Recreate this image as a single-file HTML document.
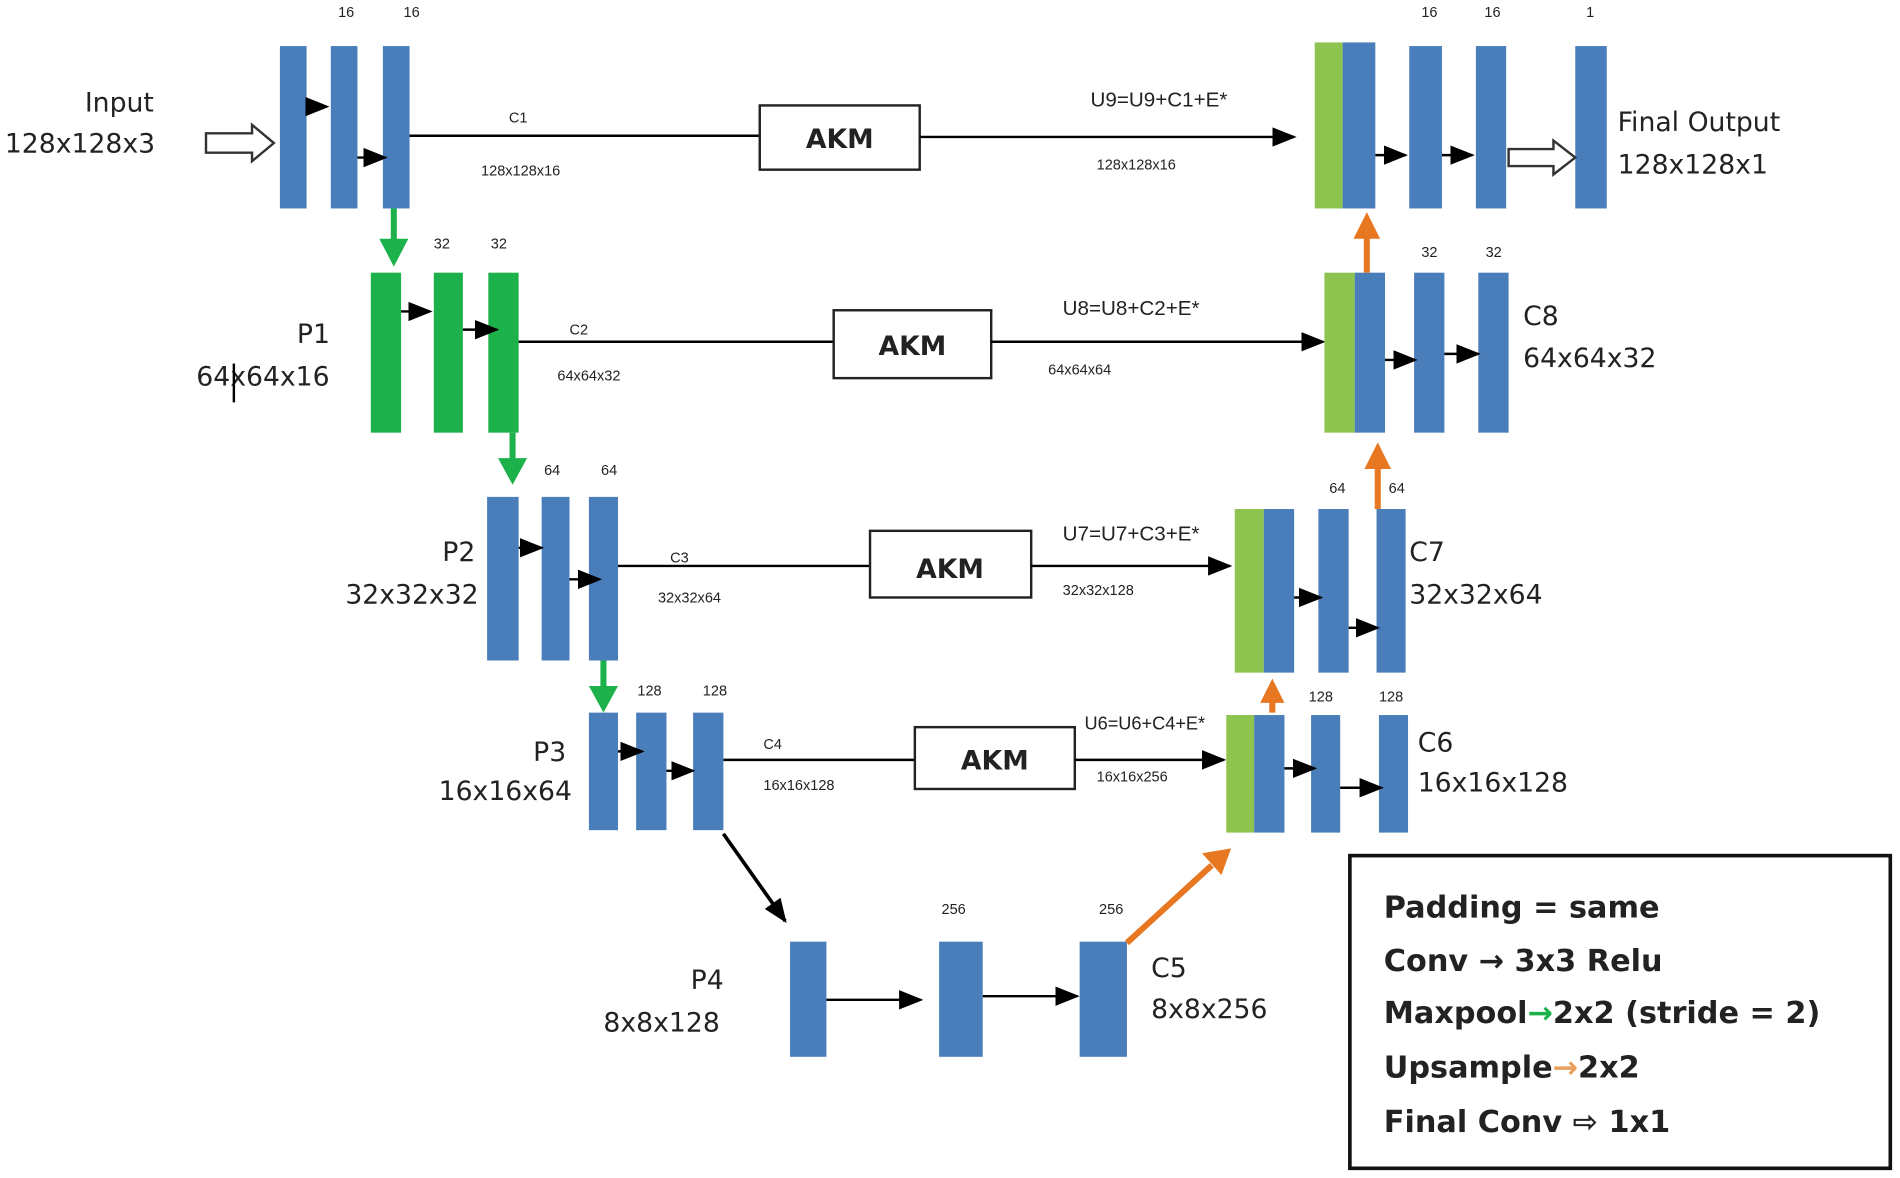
<!DOCTYPE html>
<html><head><meta charset="utf-8"><style>
html,body{margin:0;padding:0;background:#fff;}
svg{display:block;}
text{font-family:"Liberation Sans",sans-serif;fill:#222;}
.b{fill:#4a7ebb;}
.g{fill:#1cb14a;}
.lg{fill:#8dc44f;}
.big{font-size:22px;font-family:"DejaVu Sans",sans-serif;}
.sm{font-size:12px;}
.akm{font-size:22px;font-weight:bold;font-family:"DejaVu Sans",sans-serif;}
.leg{font-size:25px;font-weight:bold;font-family:"DejaVu Sans",sans-serif;}
</style></head><body>
<svg width="1900" height="1178" viewBox="0 0 1568 972" preserveAspectRatio="none" xmlns="http://www.w3.org/2000/svg">
<defs>
<marker id="abb" markerWidth="20" markerHeight="20" refX="18" refY="10" orient="auto" markerUnits="userSpaceOnUse" viewBox="0 0 20 20"><path d="M0,2 L20,10 L0,18z" fill="#000"/></marker>
</defs>
<!-- Row 1 -->
<rect class="b" x="231" y="38" width="22" height="134"/>
<rect class="b" x="273" y="38" width="22" height="134"/>
<rect class="b" x="316" y="38" width="22" height="134"/>
<text class="sm" x="279" y="14">16</text><text class="sm" x="333" y="14">16</text>
<text class="big" x="70" y="92">Input</text><text class="big" x="4" y="126">128x128x3</text>
<path d="M170,110 H208 V103 L226,118 L208,133 V126 H170 Z" fill="#fff" stroke="#333" stroke-width="2"/>
<path d="M253,88 L270,88" stroke="#000" stroke-width="2" marker-end="url(#abb)"/>
<path d="M295,130 L318,130" stroke="#000" stroke-width="2" marker-end="url(#abb)"/>
<line x1="338" y1="112" x2="627" y2="112" stroke="#000" stroke-width="2"/>
<rect x="627" y="87" width="132" height="53" fill="#fff" stroke="#222" stroke-width="2"/>
<text class="akm" x="693" y="122" text-anchor="middle">AKM</text>
<path d="M759,113 L1068,113" stroke="#000" stroke-width="2" marker-end="url(#abb)"/>
<text class="sm" x="420" y="101">C1</text><text class="sm" x="397" y="145">128x128x16</text>
<text style="font-size:17px" x="900" y="88">U9=U9+C1+E*</text><text class="sm" x="905" y="140">128x128x16</text>
<rect class="lg" x="1085" y="35" width="23" height="137"/>
<rect class="b" x="1108" y="35" width="27" height="137"/>
<rect class="b" x="1163" y="38" width="27" height="134"/>
<rect class="b" x="1218" y="38" width="25" height="134"/>
<rect class="b" x="1300" y="38" width="26" height="134"/>
<text class="sm" x="1173" y="14">16</text><text class="sm" x="1225" y="14">16</text><text class="sm" x="1309" y="14">1</text>
<path d="M1135,128 L1160,128" stroke="#000" stroke-width="2" marker-end="url(#abb)"/>
<path d="M1190,128 L1215,128" stroke="#000" stroke-width="2" marker-end="url(#abb)"/>
<path d="M1245,123 H1282 V116 L1300,130 L1282,144 V137 H1245 Z" fill="#fff" stroke="#333" stroke-width="2"/>
<text class="big" x="1335" y="108">Final Output</text><text class="big" x="1335" y="143">128x128x1</text>
<path d="M325,172 V200" stroke="#1cb14a" stroke-width="5"/><path d="M313,197 L337,197 L325,220Z" fill="#1cb14a"/>
<!-- Row 2 -->
<rect class="g" x="306" y="225" width="25" height="132"/>
<rect class="g" x="358" y="225" width="24" height="132"/>
<rect class="g" x="403" y="225" width="25" height="132"/>
<text class="sm" x="358" y="205">32</text><text class="sm" x="405" y="205">32</text>
<path d="M331,257 L355,257" stroke="#000" stroke-width="2" marker-end="url(#abb)"/>
<path d="M382,272 L410,272" stroke="#000" stroke-width="2" marker-end="url(#abb)"/>
<text class="big" x="245" y="283">P1</text><text class="big" x="162" y="318">64x64x16</text>
<line x1="193" y1="300" x2="193" y2="332" stroke="#000" stroke-width="2"/>
<line x1="428" y1="282" x2="688" y2="282" stroke="#000" stroke-width="2"/>
<rect x="688" y="256" width="130" height="56" fill="#fff" stroke="#222" stroke-width="2"/>
<text class="akm" x="753" y="293" text-anchor="middle">AKM</text>
<path d="M818,282 L1092,282" stroke="#000" stroke-width="2" marker-end="url(#abb)"/>
<text class="sm" x="470" y="276">C2</text><text class="sm" x="460" y="314">64x64x32</text>
<text style="font-size:17px" x="877" y="260">U8=U8+C2+E*</text><text class="sm" x="865" y="309">64x64x64</text>
<rect class="lg" x="1093" y="225" width="25" height="132"/>
<rect class="b" x="1118" y="225" width="25" height="132"/>
<rect class="b" x="1167" y="225" width="25" height="132"/>
<rect class="b" x="1220" y="225" width="25" height="132"/>
<text class="sm" x="1173" y="212">32</text><text class="sm" x="1226" y="212">32</text>
<path d="M1143,297 L1168,297" stroke="#000" stroke-width="2" marker-end="url(#abb)"/>
<path d="M1192,292 L1220,292" stroke="#000" stroke-width="2" marker-end="url(#abb)"/>
<text class="big" x="1257" y="268">C8</text><text class="big" x="1257" y="303">64x64x32</text>
<path d="M1128,225 V195" stroke="#e87722" stroke-width="5"/><path d="M1117,197 L1139,197 L1128,175Z" fill="#e87722"/>
<path d="M423,357 V382" stroke="#1cb14a" stroke-width="5"/><path d="M411,378 L435,378 L423,400Z" fill="#1cb14a"/>
<!-- Row 3 -->
<rect class="b" x="402" y="410" width="26" height="135"/>
<rect class="b" x="447" y="410" width="23" height="135"/>
<rect class="b" x="486" y="410" width="24" height="135"/>
<text class="sm" x="449" y="392">64</text><text class="sm" x="496" y="392">64</text>
<path d="M428,452 L447,452" stroke="#000" stroke-width="2" marker-end="url(#abb)"/>
<path d="M470,478 L495,478" stroke="#000" stroke-width="2" marker-end="url(#abb)"/>
<text class="big" x="365" y="463">P2</text><text class="big" x="285" y="498">32x32x32</text>
<line x1="510" y1="467" x2="718" y2="467" stroke="#000" stroke-width="2"/>
<rect x="718" y="438" width="133" height="55" fill="#fff" stroke="#222" stroke-width="2"/>
<text class="akm" x="784" y="477" text-anchor="middle">AKM</text>
<path d="M851,467 L1015,467" stroke="#000" stroke-width="2" marker-end="url(#abb)"/>
<text class="sm" x="553" y="464">C3</text><text class="sm" x="543" y="497">32x32x64</text>
<text style="font-size:17px" x="877" y="446">U7=U7+C3+E*</text><text class="sm" x="877" y="491">32x32x128</text>
<rect class="lg" x="1019" y="420" width="24" height="135"/>
<rect class="b" x="1043" y="420" width="25" height="135"/>
<rect class="b" x="1088" y="420" width="25" height="135"/>
<rect class="b" x="1136" y="420" width="24" height="135"/>
<text class="sm" x="1097" y="407">64</text><text class="sm" x="1146" y="407">64</text>
<path d="M1068,493 L1090,493" stroke="#000" stroke-width="2" marker-end="url(#abb)"/>
<path d="M1113,518 L1137,518" stroke="#000" stroke-width="2" marker-end="url(#abb)"/>
<text class="big" x="1163" y="463">C7</text><text class="big" x="1163" y="498">32x32x64</text>
<path d="M1137,420 V385" stroke="#e87722" stroke-width="5"/><path d="M1126,387 L1148,387 L1137,365Z" fill="#e87722"/>
<path d="M498,545 V570" stroke="#1cb14a" stroke-width="5"/><path d="M486,566 L510,566 L498,588Z" fill="#1cb14a"/>
<!-- Row 4 -->
<rect class="b" x="486" y="588" width="24" height="97"/>
<rect class="b" x="525" y="588" width="25" height="97"/>
<rect class="b" x="572" y="588" width="25" height="97"/>
<text class="sm" x="526" y="574">128</text><text class="sm" x="580" y="574">128</text>
<path d="M510,620 L530,620" stroke="#000" stroke-width="2" marker-end="url(#abb)"/>
<path d="M550,636 L572,636" stroke="#000" stroke-width="2" marker-end="url(#abb)"/>
<text class="big" x="440" y="628">P3</text><text class="big" x="362" y="660">16x16x64</text>
<line x1="597" y1="627" x2="755" y2="627" stroke="#000" stroke-width="2"/>
<rect x="755" y="600" width="132" height="51" fill="#fff" stroke="#222" stroke-width="2"/>
<text class="akm" x="821" y="635" text-anchor="middle">AKM</text>
<path d="M887,627 L1010,627" stroke="#000" stroke-width="2" marker-end="url(#abb)"/>
<text class="sm" x="630" y="618">C4</text><text class="sm" x="630" y="652">16x16x128</text>
<text style="font-size:15px" x="895" y="602">U6=U6+C4+E*</text><text class="sm" x="905" y="645">16x16x256</text>
<rect class="lg" x="1012" y="590" width="23" height="97"/>
<rect class="b" x="1035" y="590" width="25" height="97"/>
<rect class="b" x="1082" y="590" width="24" height="97"/>
<rect class="b" x="1138" y="590" width="24" height="97"/>
<text class="sm" x="1080" y="579">128</text><text class="sm" x="1138" y="579">128</text>
<path d="M1060,634 L1085,634" stroke="#000" stroke-width="2" marker-end="url(#abb)"/>
<path d="M1106,650 L1140,650" stroke="#000" stroke-width="2" marker-end="url(#abb)"/>
<text class="big" x="1170" y="620">C6</text><text class="big" x="1170" y="653">16x16x128</text>
<path d="M1050,588 V575" stroke="#e87722" stroke-width="5"/><path d="M1040,580 L1060,580 L1050,560Z" fill="#e87722"/>
<path d="M597,688 L648,760" stroke="#000" stroke-width="3" marker-end="url(#abb)"/>
<!-- Bottom -->
<rect class="b" x="652" y="777" width="30" height="95"/>
<rect class="b" x="775" y="777" width="36" height="95"/>
<rect class="b" x="891" y="777" width="39" height="95"/>
<text class="sm" x="777" y="754">256</text><text class="sm" x="907" y="754">256</text>
<path d="M682,825 L760,825" stroke="#000" stroke-width="2" marker-end="url(#abb)"/>
<path d="M811,822 L889,822" stroke="#000" stroke-width="2" marker-end="url(#abb)"/>
<text class="big" x="570" y="816">P4</text><text class="big" x="498" y="851">8x8x128</text>
<text class="big" x="950" y="806">C5</text><text class="big" x="950" y="840">8x8x256</text>
<path d="M930,778 L1000,714" stroke="#e87722" stroke-width="5"/><path d="M992,704 L1016,700 L1008,722Z" fill="#e87722"/>
<!-- Legend -->
<rect x="1114" y="706" width="446" height="258" fill="#fff" stroke="#111" stroke-width="3"/>
<text class="leg" x="1142" y="757">Padding = same</text>
<text class="leg" x="1142" y="801">Conv → 3x3 Relu</text>
<text class="leg" x="1142" y="844">Maxpool<tspan style="fill:#1cb14a">→</tspan>2x2 (stride = 2)</text>
<text class="leg" x="1142" y="889">Upsample<tspan style="fill:#e8a05a">→</tspan>2x2</text>
<text class="leg" x="1142" y="934">Final Conv ⇨ 1x1</text>
</svg>
</body></html>
